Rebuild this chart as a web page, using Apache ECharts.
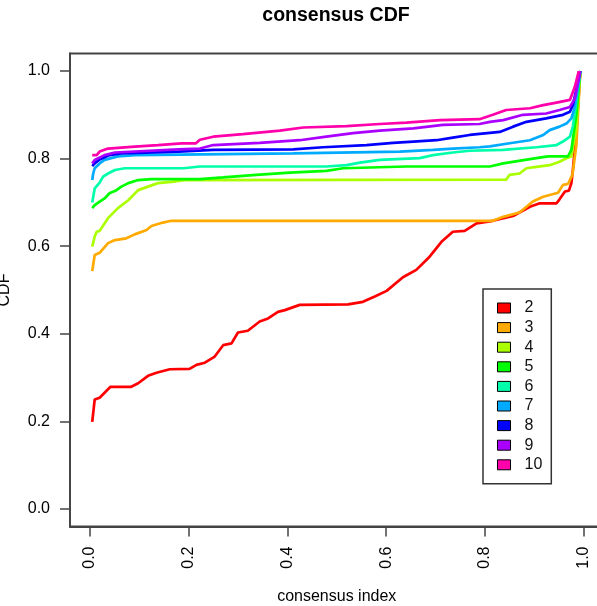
<!DOCTYPE html>
<html>
<head>
<meta charset="utf-8">
<script src="https://cdn.jsdelivr.net/npm/echarts@6/dist/echarts.min.js"></script>
<style>html,body{margin:0;padding:0;background:#fff}#c{width:597px;height:606px}</style>
</head>
<body>
<div id="c"></div>
<script>
const seriesNames = ['2','3','4','5','6','7','8','9','10'];
const seriesColors = ['#FF0000','#FFAA00','#AAFF00','#00FF00','#00FFAA','#00AAFF','#0000FF','#AA00FF','#FF00AA'];
const tickValues = [0, 0.2, 0.4, 0.6, 0.8, 1.0];

const cdf2 = [[0.005,0.199],[0.01,0.25],[0.02,0.254],[0.042,0.279],[0.084,0.279],[0.098,0.287],[0.118,0.304],[0.135,0.311],[0.162,0.319],[0.202,0.320],[0.216,0.329],[0.233,0.334],[0.253,0.348],[0.270,0.374],[0.287,0.378],[0.300,0.403],[0.320,0.407],[0.344,0.428],[0.361,0.435],[0.381,0.450],[0.395,0.454],[0.425,0.466],[0.523,0.467],[0.553,0.473],[0.577,0.485],[0.601,0.498],[0.634,0.529],[0.661,0.546],[0.688,0.576],[0.712,0.610],[0.735,0.633],[0.759,0.635],[0.783,0.652],[0.816,0.658],[0.857,0.669],[0.891,0.690],[0.911,0.698],[0.945,0.698],[0.951,0.707],[0.962,0.725],[0.970,0.727],[0.975,0.744],[0.978,0.774],[0.985,0.86],[0.993,1.0]];
const cdf3 = [[0.005,0.543],[0.01,0.58],[0.02,0.585],[0.037,0.607],[0.051,0.614],[0.074,0.618],[0.091,0.627],[0.115,0.637],[0.125,0.646],[0.148,0.654],[0.165,0.658],[0.816,0.658],[0.837,0.667],[0.870,0.677],[0.897,0.702],[0.918,0.713],[0.948,0.722],[0.958,0.740],[0.968,0.742],[0.977,0.763],[0.985,0.83],[0.993,1.0]];
const cdf4 = [[0.005,0.599],[0.01,0.622],[0.014,0.633],[0.02,0.635],[0.037,0.664],[0.057,0.687],[0.078,0.705],[0.098,0.728],[0.118,0.736],[0.138,0.744],[0.165,0.747],[0.192,0.751],[0.843,0.752],[0.850,0.763],[0.870,0.766],[0.884,0.778],[0.904,0.781],[0.931,0.785],[0.951,0.793],[0.965,0.801],[0.975,0.805],[0.985,0.87],[0.993,1.0]];
const cdf5 = [[0.005,0.687],[0.01,0.694],[0.02,0.702],[0.03,0.709],[0.04,0.721],[0.054,0.728],[0.064,0.736],[0.078,0.744],[0.098,0.751],[0.125,0.753],[0.223,0.753],[0.270,0.757],[0.337,0.763],[0.405,0.768],[0.479,0.772],[0.513,0.778],[0.641,0.782],[0.81,0.782],[0.837,0.789],[0.904,0.801],[0.928,0.805],[0.968,0.805],[0.975,0.82],[0.985,0.9],[0.993,1.0]];
const cdf6 = [[0.005,0.70],[0.01,0.732],[0.02,0.745],[0.027,0.759],[0.037,0.766],[0.051,0.774],[0.071,0.778],[0.19,0.778],[0.223,0.782],[0.479,0.782],[0.520,0.785],[0.547,0.791],[0.587,0.797],[0.668,0.801],[0.695,0.808],[0.735,0.814],[0.769,0.818],[0.837,0.820],[0.904,0.826],[0.945,0.831],[0.958,0.839],[0.972,0.850],[0.978,0.873],[0.985,0.93],[0.993,1.0]];
const cdf7 = [[0.005,0.751],[0.007,0.766],[0.01,0.778],[0.02,0.789],[0.03,0.797],[0.057,0.805],[0.091,0.808],[0.412,0.812],[0.628,0.816],[0.695,0.820],[0.735,0.823],[0.789,0.826],[0.81,0.828],[0.850,0.835],[0.891,0.842],[0.918,0.854],[0.931,0.865],[0.951,0.873],[0.965,0.880],[0.975,0.892],[0.982,0.918],[0.993,1.0]];
const cdf8 = [[0.005,0.783],[0.01,0.789],[0.02,0.798],[0.04,0.808],[0.064,0.812],[0.18,0.816],[0.25,0.820],[0.412,0.821],[0.472,0.826],[0.560,0.831],[0.614,0.836],[0.655,0.839],[0.702,0.842],[0.735,0.848],[0.769,0.854],[0.83,0.861],[0.857,0.873],[0.884,0.884],[0.924,0.892],[0.958,0.900],[0.972,0.907],[0.978,0.922],[0.993,1.0]];
const cdf9 = [[0.005,0.789],[0.01,0.797],[0.03,0.808],[0.051,0.814],[0.18,0.821],[0.223,0.823],[0.25,0.831],[0.344,0.836],[0.425,0.842],[0.479,0.850],[0.533,0.858],[0.587,0.864],[0.655,0.869],[0.715,0.877],[0.789,0.879],[0.81,0.884],[0.837,0.888],[0.877,0.900],[0.924,0.903],[0.951,0.911],[0.972,0.918],[0.982,0.937],[0.993,1.0]];
const cdf10 = [[0.005,0.808],[0.014,0.808],[0.02,0.816],[0.037,0.823],[0.084,0.827],[0.138,0.831],[0.186,0.835],[0.215,0.835],[0.223,0.843],[0.25,0.850],[0.31,0.856],[0.385,0.864],[0.432,0.871],[0.520,0.874],[0.587,0.879],[0.641,0.882],[0.709,0.888],[0.789,0.890],[0.816,0.900],[0.843,0.911],[0.891,0.915],[0.918,0.922],[0.945,0.928],[0.972,0.934],[0.982,0.964],[0.99,1.0]];

const allData = [cdf2, cdf3, cdf4, cdf5, cdf6, cdf7, cdf8, cdf9, cdf10];
const FONT = '"Liberation Sans", Arial, sans-serif';

const chart = echarts.init(document.getElementById('c'), null, {renderer: 'canvas'});
chart.setOption({
  animation: false,
  backgroundColor: '#fff',
  title: {
    text: 'consensus CDF',
    left: 336, top: 6, padding: 0, textAlign: 'center',
    textStyle: {fontFamily: FONT, fontSize: 19.5, fontWeight: 'bold', color: '#000'}
  },
  grid: {
    left: 70, top: 53.5, width: 533.5, height: 473,
    outerBoundsMode: 'none', containLabel: false,
    show: true, borderColor: '#444', borderWidth: 1.8, backgroundColor: 'transparent'
  },
  legend: {
    orient: 'vertical', left: 483, top: 289,
    data: seriesNames, icon: 'rect',
    itemWidth: 13, itemHeight: 10, itemGap: 3.6,
    padding: [11, 9, 11, 14],
    borderColor: '#333', borderWidth: 1.5,
    itemStyle: {borderColor: '#000', borderWidth: 1},
    textStyle: {fontFamily: FONT, fontSize: 16, color: '#111', lineHeight: 16, padding: [0, 0, 0, 9]}
  },
  xAxis: {
    type: 'value', min: -0.04, max: 1.04,
    name: 'consensus index', nameLocation: 'middle', nameGap: 62,
    nameTextStyle: {fontFamily: FONT, fontSize: 16, color: '#000'},
    axisLine: {show: true, onZero: false, lineStyle: {color: '#444', width: 1.8}},
    axisTick: {show: true, length: 10, customValues: tickValues, lineStyle: {color: '#444', width: 1.5}},
    axisLabel: {customValues: tickValues, rotate: 90, margin: 20, fontFamily: FONT, fontSize: 16, color: '#000',
      formatter: v => v.toFixed(1)},
    splitLine: {show: false}
  },
  yAxis: {
    type: 'value', min: -0.04, max: 1.04,
    name: 'CDF', nameLocation: 'middle', nameGap: 57,
    nameTextStyle: {fontFamily: FONT, fontSize: 16, color: '#000'},
    axisLine: {show: true, onZero: false, lineStyle: {color: '#444', width: 1.8}},
    axisTick: {show: true, length: 10, customValues: tickValues, lineStyle: {color: '#444', width: 1.5}},
    axisLabel: {customValues: tickValues, margin: 20, fontFamily: FONT, fontSize: 16, color: '#000',
      formatter: v => v.toFixed(1)},
    splitLine: {show: false}
  },
  series: allData.map((d, i) => ({
    name: seriesNames[i],
    type: 'line',
    data: d,
    showSymbol: false,
    symbol: 'none',
    color: seriesColors[i],
    itemStyle: {color: seriesColors[i]},
    lineStyle: {color: seriesColors[i], width: 2.7},
    emphasis: {disabled: true}
  }))
});
</script>
</body>
</html>
